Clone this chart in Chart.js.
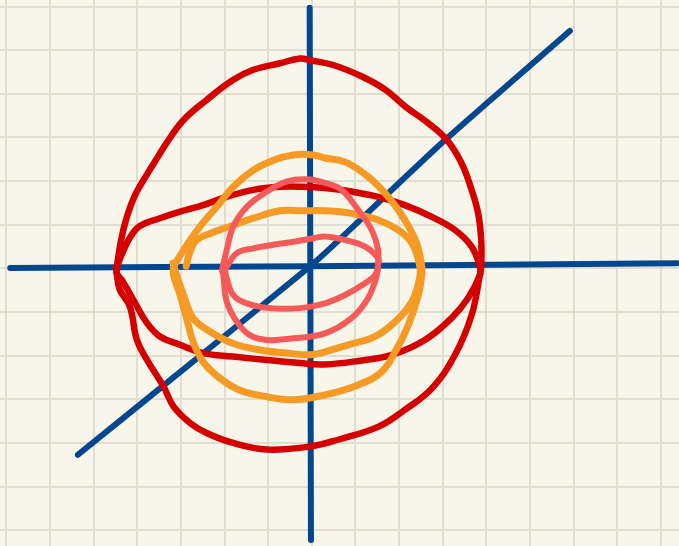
<!DOCTYPE html>
<html>
<head>
<meta charset="utf-8">
<script src="https://cdn.jsdelivr.net/npm/chart.js@4/dist/chart.umd.min.js"></script>
<style>
html,body{margin:0;padding:0;background:#f8f6ea;overflow:hidden;}
canvas{display:block;}
</style>
</head>
<body>
<canvas id="c" width="679" height="546"></canvas>
<script>
// Grid-paper coordinates (one unit = one grid cell)
const gridXTicks = [0,1,2,3,4,5,6,7,8,9,10,11,12,13,14,15];
const gridYTicks = [0,1,2,3,4,5,6,7,8,9,10,11,12];

// Blue hand-drawn axes
const axisHorizontal = [[0.09,6.01],[6.96,6.05],[15.37,6.12]];
const axisVertical   = [[6.95,11.97],[6.98,-0.22]];
const axisDiagonal   = [[1.64,1.73],[3.52,3.25],[6.72,5.85],[7.30,6.35],[10.05,8.94],[12.91,11.44]];

// Red loops
const redOuter = [[2.53,6.03],[2.63,6.65],[2.76,7.17],[2.96,7.70],[3.22,8.15],[3.45,8.52],[3.67,8.87],[4.06,9.40],
  [4.59,9.86],[5.20,10.32],[5.66,10.55],[6.27,10.70],[6.73,10.81],[6.96,10.77],[7.49,10.66],[8.16,10.39],[8.69,10.09],
  [9.15,9.70],[9.61,9.37],[10.08,8.96],[10.43,8.41],[10.66,7.80],[10.81,7.26],[10.88,6.65],[10.88,6.04],[10.85,5.85],
  [10.66,4.93],[10.28,4.02],[9.75,3.25],[9.13,2.76],[8.54,2.38],[7.62,2.08],[6.96,1.92],[5.97,1.85],[5.20,2.00],
  [4.59,2.23],[4.21,2.46],[3.83,2.84],[3.60,3.30],[3.22,3.91],[2.99,4.37],[2.83,5.13],[2.60,5.51],[2.53,5.89],[2.53,6.03]];
const redInner = [[2.53,6.03],[2.65,6.33],[2.83,6.70],[3.06,6.97],[3.52,7.15],[3.98,7.30],[4.51,7.45],[5.05,7.64],
  [5.66,7.80],[6.27,7.87],[6.80,7.87],[7.30,7.84],[7.91,7.76],[8.52,7.64],[9.13,7.45],[9.75,7.18],[10.28,6.88],
  [10.66,6.50],[10.85,6.04],[10.85,5.85],[10.58,5.32],[10.20,4.86],[9.59,4.36],[8.83,4.02],[8.06,3.88],[7.30,3.80],
  [6.73,3.83],[5.97,3.90],[5.20,3.98],[4.51,4.06],[3.98,4.25],[3.52,4.44],[3.22,4.75],[2.91,5.28],[2.65,5.73],[2.53,5.89],[2.53,6.03]];

// Orange loops
const orangeOuter = [[3.83,6.04],[4.06,6.42],[4.44,6.96],[4.82,7.41],[5.20,7.87],[5.66,8.25],[6.12,8.48],[6.58,8.60],
  [7.03,8.60],[7.30,8.53],[7.76,8.44],[8.29,8.10],[8.75,7.64],[9.13,7.11],[9.40,6.58],[9.52,6.04],[9.52,5.85],[9.44,5.39],
  [9.21,4.70],[8.91,4.09],[8.60,3.63],[8.06,3.33],[7.30,3.10],[6.58,2.99],[5.97,3.06],[5.35,3.21],[4.90,3.48],[4.51,3.86],
  [4.28,4.32],[4.13,4.86],[3.98,5.39],[3.83,5.85],[3.83,6.04]];
const orangeInner = [[4.12,6.05],[4.21,6.38],[4.36,6.65],[4.67,6.80],[5.12,6.96],[5.66,7.15],[6.27,7.32],[6.80,7.32],
  [7.30,7.32],[7.91,7.26],[8.52,7.11],[8.98,6.88],[9.29,6.58],[9.44,6.19],[9.48,5.85],[9.29,5.24],[8.91,4.78],[8.45,4.44],
  [7.84,4.25],[7.30,4.09],[6.96,4.02],[6.42,4.06],[5.81,4.13],[5.20,4.28],[4.67,4.55],[4.28,4.86],[4.06,5.39],[3.90,5.85],[3.82,6.12]];

// Pink loops
const pinkOuter = [[4.94,5.96],[5.05,6.42],[5.20,6.96],[5.51,7.41],[5.97,7.76],[6.42,7.99],[6.88,8.04],[7.30,7.96],
  [7.68,7.80],[8.06,7.34],[8.37,6.88],[8.52,6.42],[8.52,6.19],[8.49,5.85],[8.29,5.32],[7.91,4.86],[7.30,4.51],[6.58,4.40],
  [5.97,4.36],[5.58,4.47],[5.28,4.78],[5.05,5.24],[4.97,5.85],[4.94,5.96]];
const pinkInner = [[5.05,6.04],[5.28,6.35],[5.66,6.46],[6.12,6.54],[6.58,6.61],[7.03,6.69],[7.30,6.73],[7.76,6.65],
  [8.22,6.50],[8.52,6.23],[8.52,6.08],[8.45,5.85],[8.22,5.66],[7.76,5.39],[7.30,5.20],[6.73,5.09],[6.04,5.09],[5.51,5.20],
  [5.20,5.39],[5.05,5.77],[5.01,5.96]];

const toPts = a => a.map(p => ({x: p[0], y: p[1]}));

const BLUE = '#04478f', RED = '#d40000', ORANGE = '#f59b25', PINK = '#f55a5a';

function stroke(label, pts, color, width, order, tension) {
  return {
    label, data: toPts(pts), showLine: true, borderColor: color, backgroundColor: color,
    borderWidth: width, pointRadius: 0, pointHoverRadius: 0, tension: tension,
    borderCapStyle: 'round', borderJoinStyle: 'round', fill: false, order
  };
}

const paperBg = {
  id: 'paperBg',
  beforeDraw(chart) {
    const ctx = chart.ctx;
    ctx.save();
    ctx.fillStyle = '#f8f6ea';
    ctx.fillRect(0, 0, chart.width, chart.height);
    ctx.restore();
  }
};

new Chart(document.getElementById('c'), {
  type: 'scatter',
  data: {
    datasets: [
      stroke('pink inner', pinkInner, PINK, 6, 1, 0.4),
      stroke('pink outer', pinkOuter, PINK, 6, 2, 0.4),
      stroke('orange inner', orangeInner, ORANGE, 7, 3, 0.4),
      stroke('orange outer', orangeOuter, ORANGE, 7, 4, 0.4),
      stroke('red inner', redInner, RED, 6.5, 5, 0.4),
      stroke('red outer', redOuter, RED, 6.5, 6, 0.4),
      stroke('diagonal axis', axisDiagonal, BLUE, 6, 7, 0.2),
      stroke('vertical axis', axisVertical, BLUE, 6, 8, 0),
      stroke('horizontal axis', axisHorizontal, BLUE, 6, 9, 0.2)
    ]
  },
  options: {
    responsive: false,
    animation: false,
    events: [],
    layout: { padding: 0, autoPadding: false },
    plugins: { legend: { display: false }, tooltip: { enabled: false } },
    scales: {
      x: {
        type: 'linear', min: -0.144, max: 15.411,
        afterBuildTicks: s => { s.ticks = gridXTicks.map(v => ({value: v})); },
        ticks: { display: false },
        border: { display: false },
        grid: { color: '#e0ded1', lineWidth: 2, drawTicks: false }
      },
      y: {
        type: 'linear', min: -0.360, max: 12.149,
        afterBuildTicks: s => { s.ticks = gridYTicks.map(v => ({value: v})); },
        ticks: { display: false },
        border: { display: false },
        grid: { color: '#e0ded1', lineWidth: 2, drawTicks: false }
      }
    }
  },
  plugins: [paperBg]
});
</script>
</body>
</html>
